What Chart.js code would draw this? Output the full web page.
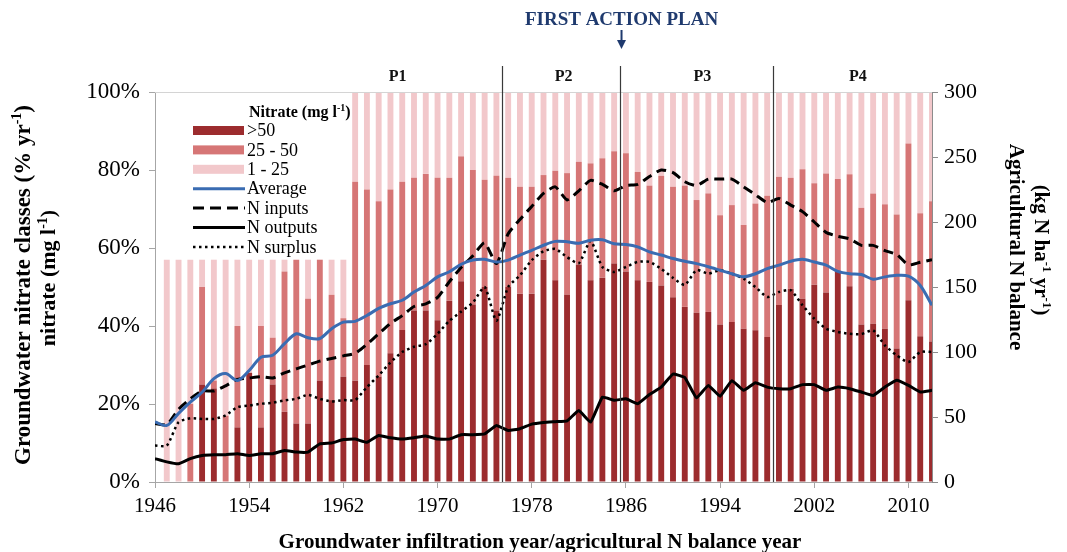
<!DOCTYPE html>
<html>
<head>
<meta charset="utf-8">
<script src="https://cdn.jsdelivr.net/npm/chart.js@4.4.1/dist/chart.umd.min.js"></script>
<style>
html,body{margin:0;padding:0;background:#fff;}
#wrap{width:1067px;height:552px;position:relative;}
</style>
</head>
<body>
<div id="wrap"><canvas id="c" width="1067" height="552"></canvas></div>
<script>
// ---------- DATA ----------
const years = [1946,1947,1948,1949,1950,1951,1952,1953,1954,1955,
  1956,1957,1958,1959,1960,1961,1962,1963,1964,1965,
  1966,1967,1968,1969,1970,1971,1972,1973,1974,1975,
  1976,1977,1978,1979,1980,1981,1982,1983,1984,1985,
  1986,1987,1988,1989,1990,1991,1992,1993,1994,1995,
  1996,1997,1998,1999,2000,2001,2002,2003,2004,2005,
  2006,2007,2008,2009,2010,2011,2012];

const tickYears = [1946,1954,1962,1970,1978,1986,1994,2002,2010];

// Share of nitrate classes (% per year)
const classOver50 = [null,0,0,0,25,24,0,14,28,14,
  25,18,15,15,26,21,27,26,30,27,
  33,39,44,44,41.5,46.5,51.5,45.5,50,44,
  50,48.3,48.3,57,51.7,48,55.8,51.7,52.4,56,
  54,51.7,51.3,50.4,47.4,44.9,43.4,43.6,40.4,41,
  39.3,38.9,37.2,45.4,49.5,47,50.6,48.6,53.9,50.2,
  40.4,40.6,39.3,34.2,46.6,37.4,36];
const class25to50 = [null,0,0,20,25,2,17,26,0,26,
  12,36,42,32,31,27,15,51,45,45,
  42,38,34,35,36.5,31.5,32,34.5,27.5,34.5,
  28,27.4,27.4,21.7,28.1,31.2,26.3,30,30.6,28.8,
  30.3,27.8,24.7,28.1,28.3,31.1,28.9,30.4,28,30,
  26.6,32.5,36.2,32.9,28.5,33.2,26,30.5,23.8,28.7,
  29.9,33.4,31.9,34.4,40.2,31.5,36];
const class1to25 = [null,57,57,37,7,31,40,17,29,17,
  20,3,0,10,0,9,15,23,25,28,
  25,23,22,21,22,22,16.5,20,22.5,21.5,
  22,24.3,24.3,21.3,20.2,20.8,17.9,18.3,17,15.2,
  15.7,20.5,24,21.5,24.3,24,27.7,26,31.6,29,
  34.1,28.6,26.6,21.7,22,19.8,23.4,20.9,22.3,21.1,
  29.7,26,28.8,31.4,13.2,31.1,28];

// Average nitrate (mg/l, read on left axis)
const averageNitrate = [15.4,14.5,17.6,20.5,23,26.5,27.8,26,28.6,32,
  32.5,35.5,38,37,36.8,39.3,41,41.2,42.7,44.5,
  45.7,46.6,48.7,50.4,52.6,53.9,55.8,56.9,57.1,56.4,
  56.9,58.2,59.4,60.7,61.7,61.6,61.2,62,62.1,61.1,
  60.9,60.3,59,58.2,57.3,56.6,56,55.2,54.3,53.4,
  52.6,53.4,54.7,55.6,56.6,57.1,56.4,55.6,54,53.4,
  53.2,52,52.6,53,52.8,50.4,45.3];

// Agricultural N balance (kg N/ha/yr, right axis)
const nInputs = [45,44,56,64,70,70,74,79,80,81,
  80,84,87,90,93,95,97,99,106,114,
  122,128,135,137,142,154,165,174,184,168,
  191,202,212,222,227,217,224,232,229,224,
  228,229,235,240,238,231,228,233,233,233,
  227,221,215,218,213,208,200,192,189,187,
  182,182,178,175,167,169,171];
const nOutputs = [18,15.5,14,18,20.4,21,21,21.7,20.4,21.7,
  21.7,24.3,23,23,29.4,30,32.7,33,30.5,35.8,
  34,33,34,35.4,33,33,36.4,36.4,37,43.5,
  39.7,41,44.5,45.8,46.4,47,55,46,65.3,62.8,
  64,60.2,67.3,73,83,80.4,64.7,74.3,66,78,
  70.5,76.4,73,71.8,71.8,74.9,74.9,70.5,73,71.8,
  69.2,66.6,73,78.2,74.3,69.2,70.5];
const nSurplus = [28,28,46,49,48.5,48.5,51.2,57.6,58.8,60.2,
  61,62.8,64,67,64,62,63,63,73,82,
  92,100,104,106,114,124,131,138,150,124,
  150,159,170.6,177.5,179.3,173,168.3,185.4,165.4,161.6,
  165.4,169.3,169.3,164,157,151.6,163,160.3,162.9,160.3,
  156.5,150,142.3,146.2,147.5,136,125.7,118,115.4,114,
  113.8,116.7,105.1,97.4,92.3,100,100];

// Policy periods
const periodBreaks = [1975.5, 1985.5, 1998.5];
const periodNames = ['P1','P2','P3','P4'];
const periodLabelYears = [1966.6, 1980.7, 1992.5, 2005.7];
const actionPlanYear = 1985.5;

// ---------- STYLE ----------
const SERIF = "'Liberation Serif','Times New Roman',serif";
const C = {
  dark: 'rgb(156,44,46)',
  mid: 'rgb(214,118,118)',
  light: 'rgb(242,200,203)',
  blue: 'rgb(58,108,178)',
  navy: 'rgb(31,58,110)',
  axis: '#a6a6a6'
};

const pts = arr => years.map((y, i) => ({x: y, y: arr[i]}));

function richText(ctx, parts, x, baseline, size, weight, align) {
  const font = sup => `${weight} ${sup ? Math.round(size * 0.62) : size}px ${SERIF}`;
  let total = 0;
  parts.forEach(([t, sup]) => { ctx.font = font(sup); total += ctx.measureText(t).width; });
  let cx = align === 'center' ? x - total / 2 : x;
  ctx.textAlign = 'left';
  ctx.textBaseline = 'alphabetic';
  parts.forEach(([t, sup]) => {
    ctx.font = font(sup);
    ctx.fillText(t, cx, sup ? baseline - size * 0.38 : baseline);
    cx += ctx.measureText(t).width;
  });
}

const decorations = {
  id: 'decorations',
  afterDatasetsDraw(chart) {
    const {ctx, chartArea: a, scales: {x}} = chart;
    ctx.save();
    // light top frame line
    ctx.strokeStyle = '#d4d4d4';
    ctx.lineWidth = 1;
    ctx.beginPath(); ctx.moveTo(a.left, a.top + 0.5); ctx.lineTo(a.right, a.top + 0.5); ctx.stroke();

    // period separators
    ctx.strokeStyle = '#3a3a3a';
    ctx.lineWidth = 1.2;
    periodBreaks.forEach(v => {
      const px = Math.round(x.getPixelForValue(v)) + 0.5;
      ctx.beginPath(); ctx.moveTo(px, 66); ctx.lineTo(px, a.bottom); ctx.stroke();
    });
    // period labels
    ctx.fillStyle = '#111';
    ctx.font = `bold 16px ${SERIF}`;
    ctx.textAlign = 'center';
    ctx.textBaseline = 'alphabetic';
    periodNames.forEach((n, i) => {
      ctx.fillText(n, x.getPixelForValue(periodLabelYears[i]), 81);
    });

    // First action plan
    const ap = x.getPixelForValue(actionPlanYear) + 1.5;
    ctx.fillStyle = C.navy;
    ctx.font = `bold 19px ${SERIF}`;
    ctx.textAlign = 'center';
    ctx.fillText('FIRST ACTION PLAN', ap, 25);
    ctx.strokeStyle = C.navy; ctx.lineWidth = 2;
    ctx.beginPath(); ctx.moveTo(ap, 30); ctx.lineTo(ap, 42); ctx.stroke();
    ctx.beginPath(); ctx.moveTo(ap - 4.5, 40); ctx.lineTo(ap + 4.5, 40); ctx.lineTo(ap, 49); ctx.closePath(); ctx.fill();

    // legend (inside plot)
    ctx.fillStyle = '#fff';
    ctx.fillRect(162, 96, 186, 160);
    ctx.fillStyle = '#000';
    richText(ctx, [['Nitrate (mg l', false], ['-1', true], [')', false]], 249, 117, 16, 'bold', 'left');
    const rows = [
      {ds: chart.data.datasets[4], kind: 'box'},
      {ds: chart.data.datasets[5], kind: 'box'},
      {ds: chart.data.datasets[6], kind: 'box'},
      {ds: chart.data.datasets[0], kind: 'line'},
      {ds: chart.data.datasets[1], kind: 'line'},
      {ds: chart.data.datasets[2], kind: 'line'},
      {ds: chart.data.datasets[3], kind: 'line'}
    ];
    rows.forEach((r, i) => {
      const cy = 130.5 + i * 19.4;
      if (r.kind === 'box') {
        ctx.fillStyle = r.ds.backgroundColor;
        ctx.fillRect(193, cy - 4.5, 51, 9);
      } else {
        ctx.strokeStyle = r.ds.borderColor;
        ctx.lineWidth = r.ds.borderWidth;
        ctx.setLineDash(r.ds.label === 'N inputs' ? [11, 6] : (r.ds.borderDash || []));
        ctx.beginPath(); ctx.moveTo(193, cy); ctx.lineTo(245, cy); ctx.stroke();
        ctx.setLineDash([]);
      }
      ctx.fillStyle = '#000';
      ctx.font = `18px ${SERIF}`;
      ctx.textAlign = 'left';
      ctx.textBaseline = 'middle';
      ctx.fillText(r.ds.label, 247, cy + 1);
    });
    ctx.restore();
  },
  afterDraw(chart) {
    const {ctx} = chart;
    ctx.save();
    ctx.fillStyle = '#000';
    // x-axis title
    richText(ctx, [['Groundwater infiltration year/agricultural N balance year', false]], 540, 548, 21, 'bold', 'center');
    // left titles
    ctx.save();
    ctx.translate(22, 285); ctx.rotate(-Math.PI / 2);
    richText(ctx, [['Groundwater nitrate classes (% yr', false], ['-1', true], [')', false]], 0, 8, 23, 'bold', 'center');
    ctx.restore();
    ctx.save();
    ctx.translate(47, 278); ctx.rotate(-Math.PI / 2);
    richText(ctx, [['nitrate (mg l', false], ['-1', true], [')', false]], 0, 8, 22, 'bold', 'center');
    ctx.restore();
    // right titles
    ctx.save();
    ctx.translate(1017, 247); ctx.rotate(Math.PI / 2);
    richText(ctx, [['Agricultural N balance', false]], 0, 7, 21, 'bold', 'center');
    ctx.restore();
    ctx.save();
    ctx.translate(1042, 250); ctx.rotate(Math.PI / 2);
    richText(ctx, [['(kg N ha', false], ['-1', true], [' yr', false], ['-1', true], [')', false]], 0, 7, 21, 'bold', 'center');
    ctx.restore();
    ctx.restore();
  }
};

const barCommon = {type: 'bar', yAxisID: 'y', xAxisID: 'x', order: 2, clip: 0,
  barPercentage: 0.5, categoryPercentage: 1, borderWidth: 0};
const lineCommon = {type: 'line', xAxisID: 'x', order: 0, pointRadius: 0, fill: false,
  borderCapStyle: 'butt', borderJoinStyle: 'round'};

new Chart(document.getElementById('c'), {
  type: 'bar',
  data: {
    datasets: [
      {...lineCommon, label: 'Average', data: pts(averageNitrate), yAxisID: 'yAvg',
        borderColor: C.blue, borderWidth: 3, tension: 0.3},
      {...lineCommon, label: 'N inputs', data: pts(nInputs), yAxisID: 'y2',
        borderColor: '#000', borderWidth: 3, borderDash: [10, 6], tension: 0.2},
      {...lineCommon, label: 'N outputs', data: pts(nOutputs), yAxisID: 'y2',
        borderColor: '#000', borderWidth: 3, tension: 0.1},
      {...lineCommon, label: 'N surplus', data: pts(nSurplus), yAxisID: 'y2',
        borderColor: '#000', borderWidth: 2.5, borderDash: [2.5, 3.5], tension: 0.2},
      {...barCommon, label: '>50', data: pts(classOver50), backgroundColor: C.dark},
      {...barCommon, label: '25 - 50', data: pts(class25to50), backgroundColor: C.mid},
      {...barCommon, label: '1 - 25', data: pts(class1to25), backgroundColor: C.light}
    ]
  },
  options: {
    responsive: false,
    animation: false,
    events: [],
    devicePixelRatio: 1,
    layout: {padding: {top: 92, left: 0, right: 0, bottom: 0}},
    plugins: {legend: {display: false}, tooltip: {enabled: false}, title: {display: false}},
    scales: {
      x: {
        type: 'linear', min: 1946, max: 2012, bounds: 'data', offset: false, stacked: true,
        afterBuildTicks: s => { s.ticks = tickYears.map(v => ({value: v})); },
        afterFit: s => { s.height = 70; },
        ticks: {callback: v => String(v), font: {family: SERIF, size: 21}, color: '#000',
          padding: 6, maxRotation: 0, autoSkip: false},
        grid: {display: true, drawOnChartArea: false, drawTicks: true, tickLength: 6, color: C.axis, offset: false},
        border: {display: true, color: C.axis}
      },
      y: {
        type: 'linear', position: 'left', stacked: true, min: 0, max: 100,
        afterFit: s => { s.width = 155; },
        ticks: {stepSize: 20, callback: v => v + '%', font: {family: SERIF, size: 23}, color: '#000', padding: 9},
        grid: {drawOnChartArea: false, drawTicks: true, tickLength: 6, color: C.axis},
        border: {display: true, color: C.axis}
      },
      yAvg: {type: 'linear', display: false, min: 0, max: 100},
      y2: {
        type: 'linear', position: 'right', min: 0, max: 300,
        afterFit: s => { s.width = 135; },
        ticks: {stepSize: 50, font: {family: SERIF, size: 22}, color: '#000', padding: 6},
        grid: {drawOnChartArea: false, drawTicks: true, tickLength: 6, color: '#8c8c8c'},
        border: {display: true, color: '#8c8c8c'}
      }
    }
  },
  plugins: [decorations]
});
</script>
</body>
</html>
